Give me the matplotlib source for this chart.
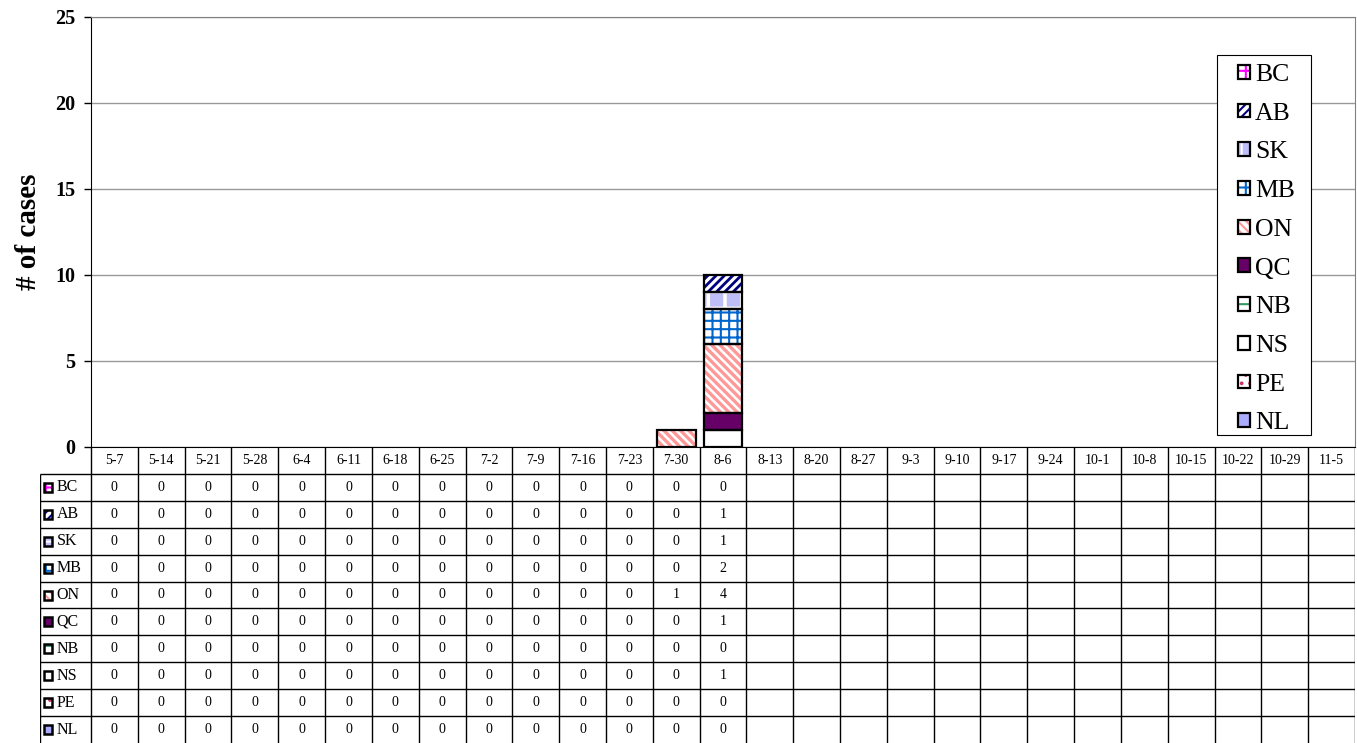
import numpy as np
import matplotlib
matplotlib.use('Agg')
import matplotlib.pyplot as plt
from matplotlib.patches import Patch, Rectangle

plt.rcParams['font.family'] = ['Liberation Serif', 'DejaVu Serif']
plt.rcParams['hatch.linewidth'] = 1.5

weeks = ['5-7', '5-14', '5-21', '5-28', '6-4', '6-11', '6-18', '6-25', '7-2',
         '7-9', '7-16', '7-23', '7-30', '8-6', '8-13', '8-20', '8-27', '9-3',
         '9-10', '9-17', '9-24', '10-1', '10-8', '10-15', '10-22', '10-29', '11-5']
provinces = ['BC', 'AB', 'SK', 'MB', 'ON', 'QC', 'NB', 'NS', 'PE', 'NL']

# weekly case counts (only first 14 weeks reported)
bc = [0, 0, 0, 0, 0, 0, 0, 0, 0, 0, 0, 0, 0, 0]
ab = [0, 0, 0, 0, 0, 0, 0, 0, 0, 0, 0, 0, 0, 1]
sk = [0, 0, 0, 0, 0, 0, 0, 0, 0, 0, 0, 0, 0, 1]
mb = [0, 0, 0, 0, 0, 0, 0, 0, 0, 0, 0, 0, 0, 2]
on = [0, 0, 0, 0, 0, 0, 0, 0, 0, 0, 0, 0, 1, 4]
qc = [0, 0, 0, 0, 0, 0, 0, 0, 0, 0, 0, 0, 0, 1]
nb = [0, 0, 0, 0, 0, 0, 0, 0, 0, 0, 0, 0, 0, 0]
ns = [0, 0, 0, 0, 0, 0, 0, 0, 0, 0, 0, 0, 0, 1]
pe = [0, 0, 0, 0, 0, 0, 0, 0, 0, 0, 0, 0, 0, 0]
nl = [0, 0, 0, 0, 0, 0, 0, 0, 0, 0, 0, 0, 0, 0]
counts = [bc, ab, sk, mb, on, qc, nb, ns, pe, nl]

# face colour, hatch, hatch colour, hatch width
styles = {
    'BC': ('white', '++', '#FF00FF', 1.5),
    'AB': ('white', '////', '#000080', 2.0),
    'SK': ('#BDBDF8', '+', 'white', 2.5),
    'MB': ('white', '++', '#0066CC', 1.5),
    'ON': ('white', '\\\\\\\\', '#FF9999', 2.4),
    'QC': ('#660066', '', '#660066', 1.0),
    'NB': ('white', '--', '#339966', 1.5),
    'NS': ('white', '', 'white', 1.0),
    'PE': ('white', '..', '#CC3366', 1.5),
    'NL': ('#AAAAFF', '', '#AAAAFF', 1.0),
}


def hatch_width(artists, lw):
    for a in artists:
        if hasattr(a, 'set_hatch_linewidth'):
            a.set_hatch_linewidth(lw)


W, H = 1357, 743
fig = plt.figure(figsize=(W / 100, H / 100), dpi=100)
ax = fig.add_axes([91 / W, 1 - 447 / H, (1355 - 91) / W, (447 - 17) / H])

x = np.arange(len(weeks))
bottom = np.zeros(len(bc))
for name, vals in zip(provinces[::-1], counts[::-1]):
    vals = np.array(vals, dtype=float)
    face, hatch, hc, hlw = styles[name]
    idx = np.nonzero(vals)[0]
    if len(idx):
        with plt.rc_context({'hatch.linewidth': hlw}):
            bars = ax.bar(x[idx], vals[idx], 0.83, bottom=bottom[idx], color=face,
                          hatch=hatch, edgecolor=hc, linewidth=0, zorder=2)
        hatch_width(bars, hlw)
        ax.bar(x[idx], vals[idx], 0.83, bottom=bottom[idx], fill=False,
               edgecolor='black', linewidth=1.6, zorder=3)
    bottom += vals

ax.set_xlim(-0.5, len(weeks) - 0.5)
ax.set_ylim(0, 25)
ax.set_yticks(range(0, 26, 5))
ax.set_xticks([])
ax.yaxis.grid(True, color='#999999', linewidth=1)
ax.set_axisbelow(True)
for s in ['top', 'right']:
    ax.spines[s].set_color('#808080')
for s in ['left', 'bottom']:
    ax.spines[s].set_color('black')
ax.tick_params(axis='y', length=5, width=1, pad=6, labelsize=14.5)
for t in ax.get_yticklabels():
    t.set_fontweight('bold')
ax.set_ylabel('# of cases', fontsize=21, fontweight='bold', labelpad=10)

# legend: frame drawn separately so the keys can sit inset like the original
fig.patches.append(Rectangle((1217 / W, 1 - 435 / H), (1311 - 1217) / W, (435 - 55) / H,
                             transform=fig.transFigure, facecolor='white',
                             edgecolor='black', linewidth=0.8, zorder=4))
handles = []
for name in provinces:
    face, hatch, hc, hlw = styles[name]
    with plt.rc_context({'hatch.linewidth': hlw}):
        p = Patch(facecolor=face, hatch=hatch, edgecolor=hc, linewidth=0)
    hatch_width([p], hlw)
    handles.append((p, Patch(fill=False, edgecolor='black', linewidth=1.6)))
leg = fig.legend(handles, provinces, loc='upper left',
                 bbox_to_anchor=(1238 / W, 1 - 64 / H), bbox_transform=fig.transFigure,
                 borderaxespad=0, frameon=False, prop={'size': 18.5},
                 handlelength=0.45, handleheight=0.45, handletextpad=0.22,
                 labelspacing=0.65, borderpad=0)
leg.set_zorder(5)

# data table below
col_w = (1355 - 91) / len(weeks)
row_h = 296 / 11
x_left = -0.5 - (91 - 40) / col_w
tab = fig.add_axes([40 / W, 0, (1355 - 40) / W, 296 / H])
tab.set_xlim(x_left, len(weeks) - 0.5)
tab.set_ylim(11, 0)
tab.axis('off')

tab.hlines(np.arange(1, 11), x_left, len(weeks) - 0.5, color='black', linewidth=1)
tab.vlines(np.arange(len(weeks) + 1) - 0.5, 0, 11, color='black', linewidth=1)
tab.vlines(x_left, 1, 11, color='black', linewidth=1)

for i, wk in enumerate(weeks):
    tab.text(i, 0.5, wk, ha='center', va='center', fontsize=10)

for r, (name, vals) in enumerate(zip(provinces, counts)):
    for j, v in enumerate(vals):
        tab.text(j, r + 1.5, str(v), ha='center', va='center', fontsize=10)
    face, hatch, hc, hlw = styles[name]
    kx = x_left + 3.5 / col_w
    ky = r + 1.5 - 4.5 / row_h
    tab.add_patch(Rectangle((kx, ky), 8.5 / col_w, 9 / row_h, facecolor=face,
                            hatch=hatch, edgecolor=hc, linewidth=0))
    tab.add_patch(Rectangle((kx, ky), 8.5 / col_w, 9 / row_h, fill=False,
                            edgecolor='black', linewidth=1.8))
    tab.text(x_left + 16.5 / col_w, r + 1.5, name, ha='left', va='center', fontsize=11.5)

fig.savefig('out.png', dpi=100)
